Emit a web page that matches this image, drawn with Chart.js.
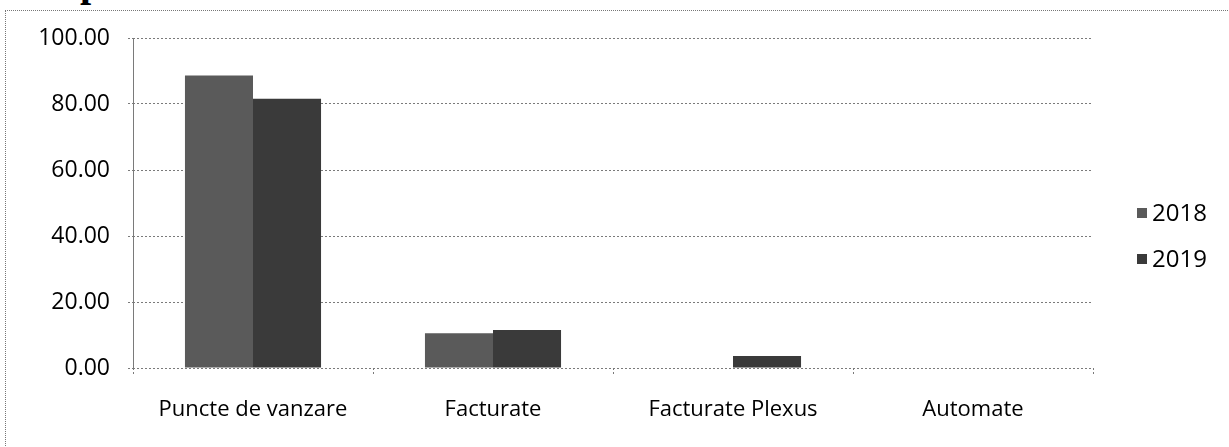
<!DOCTYPE html>
<html>
<head>
<meta charset="utf-8">
<script src="https://cdn.jsdelivr.net/npm/chart.js@4"></script>
<style>
  body { margin: 0; background: #fff; }
  #wrap { position: relative; width: 1229px; height: 447px; overflow: hidden; }
  #frame { position: absolute; left: 5px; top: 10px; right: -5px; bottom: -5px; border-top: 1px dotted #777; border-left: 1px dotted #777; }
  #cut { position: absolute; left: 80px; top: -41px; font: bold 40px "Liberation Serif", serif; color: #000; white-space: nowrap; }
  canvas { position: absolute; left: 0; top: 0; }
</style>
</head>
<body>
<div id="wrap">
  <div id="cut">puncte de vanzare</div>
  <div id="frame"></div>
  <canvas id="salesChart" width="1229" height="447"></canvas>
</div>
<script>
// data
const categories = ['Puncte de vanzare', 'Facturate', 'Facturate Plexus', 'Automate'];
const years = ['2018', '2019'];
const values2018 = [88.6, 10.5, 0, 0];
const values2019 = [81.6, 11.5, 3.6, 0];
const yTicks = [0, 20, 40, 60, 80, 100];

const gridGray = '#7a7a7a';

// legend on the right, drawn from the datasets
const sideLegend = {
    id: 'sideLegend',
    afterDraw(chart) {
        const ctx = chart.ctx;
        const x = chart.chartArea.right + 44;
        ctx.save();
        ctx.font = '24px "Open Sans"';
        ctx.textBaseline = 'middle';
        chart.data.datasets.forEach((ds, i) => {
            const y = 213 + i * 46;
            ctx.fillStyle = ds.backgroundColor;
            ctx.fillRect(x, y - 5, 10, 10);
            ctx.fillStyle = '#000';
            ctx.fillText(ds.label, x + 15, y + 1);
        });
        ctx.restore();
    }
};

const salesCtx = document.getElementById('salesChart').getContext('2d');
const salesChart = new Chart(salesCtx, {
    type: 'bar',
    data: {
        labels: categories,
        datasets: [{
            label: years[0],
            data: values2018,
            backgroundColor: '#5a5a5a',
            categoryPercentage: 0.567,
            barPercentage: 1
        }, {
            label: years[1],
            data: values2019,
            backgroundColor: '#3a3a3a',
            categoryPercentage: 0.567,
            barPercentage: 1
        }]
    },
    options: {
        responsive: false,
        animation: false,
        layout: { padding: { top: 38, right: 136, left: 0, bottom: 0 } },
        plugins: {
            legend: { display: false },
            tooltip: { enabled: false }
        },
        scales: {
            x: {
                border: { display: false },
                grid: {
                    offset: true,
                    color: (c) => c.index === 0 ? gridGray : 'transparent',
                    tickColor: gridGray,
                    tickLength: 6,
                    tickBorderDash: [2, 2]
                },
                ticks: {
                    color: '#000',
                    padding: 23,
                    font: { family: 'Open Sans', size: 22 }
                },
                afterFit: (s) => { s.height = 79; }
            },
            y: {
                min: 0,
                max: 100,
                border: { display: false, dash: [2, 2] },
                grid: {
                    color: gridGray,
                    tickColor: gridGray,
                    tickLength: 5,
                    tickBorderDash: [2, 2]
                },
                afterBuildTicks: (s) => { s.ticks = yTicks.map(v => ({ value: v })); },
                ticks: {
                    color: '#000',
                    padding: 18,
                    font: { family: 'Open Sans', size: 23 },
                    callback: (v) => Number(v).toFixed(2)
                },
                afterFit: (s) => { s.width = 133; }
            }
        }
    },
    plugins: [sideLegend]
});
</script>
</body>
</html>
